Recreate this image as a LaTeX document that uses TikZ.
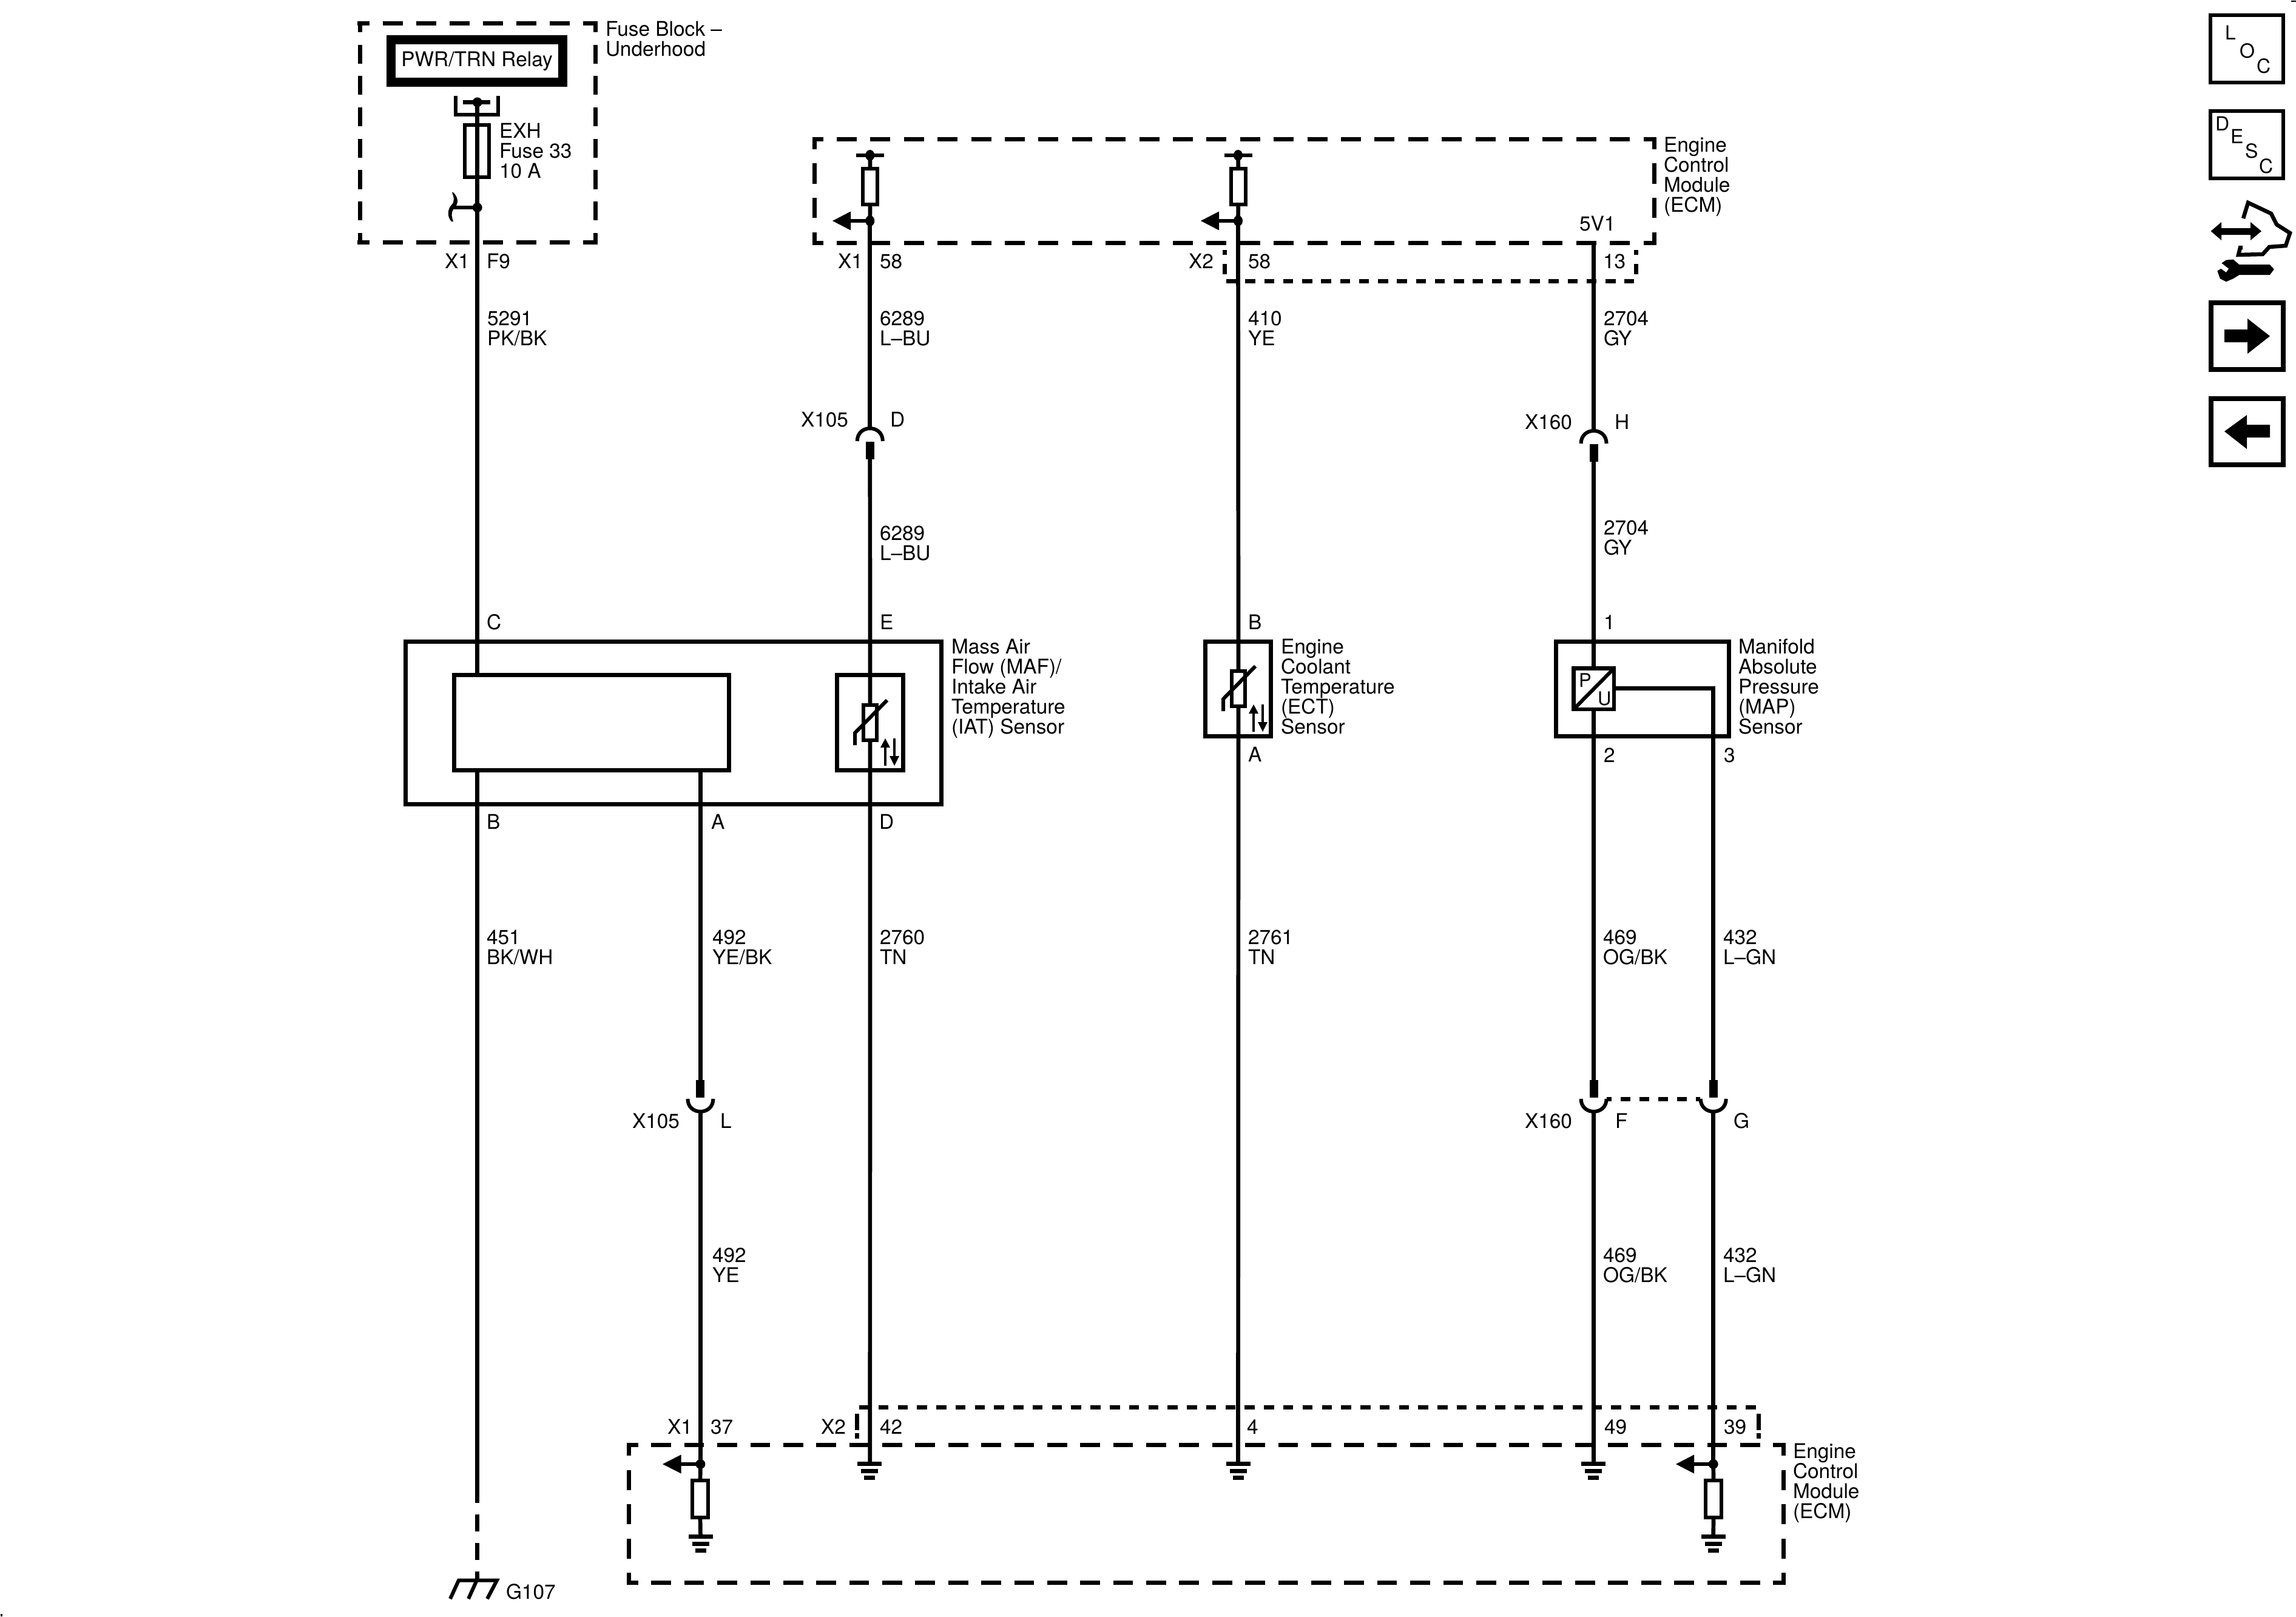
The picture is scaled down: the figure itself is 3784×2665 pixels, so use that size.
\documentclass[tikz,border=0pt]{standalone}
\usepackage{fontspec}
\setmainfont{TeX Gyre Heros}
\newcommand\lbfont{\fontsize{33.4}{33}\selectfont}
\newcommand\tlines[1]{\vtop{\baselineskip=33pt\lineskiplimit=-100pt #1}}
\tikzset{
  wire/.style={line width=6.7pt},
  thin wire/.style={line width=6pt},
  lbl/.style={inner sep=0pt,outer sep=0pt,anchor=base west,font=\lbfont},
  rbox/.style={draw,line width=7pt,inner sep=0pt,outer sep=0pt,fill=white},
  opbox/.style={draw,line width=7pt,inner sep=0pt,outer sep=0pt},
  resbox/.style={draw,line width=6pt,inner sep=0pt,outer sep=0pt,fill=white},
  iconbox/.style={draw,line width=6pt,inner sep=0pt,outer sep=0pt},
  iconboxb/.style={draw,line width=8pt,inner sep=0pt,outer sep=0pt},
  dashln/.style={line width=7pt},
}
% box node from corners: style, name, x1,y1,x2,y2
\newcommand\boxat[6]{\node[#1,minimum width={(#5-#3)*1pt},minimum height={(#6-#4)*1pt}] (#2) at ({(#3+#5)/2},{(#4+#6)/2}) {};}
% dashed line: x1,y1,x2,y2,on,off,phase
\newcommand\dl[7]{\draw[dashln,dash pattern=on #5pt off #6pt,dash phase=#7pt] (#1,#2) -- (#3,#4);}
\newcommand\gnd[2]{%
  \fill ({#1-20},#2) rectangle ({#1+20},{#2+7});
  \fill ({#1-14},{#2+12}) rectangle ({#1+14},{#2+19});
  \fill ({#1-9},{#2+23}) rectangle ({#1+9},{#2+30});}
% connector seen from below (cap on top, block below)  x, cap end y
\newcommand\capup[2]{%
  \draw[thin wire] ({#1-21},#2) .. controls ({#1-21},{#2-28}) and ({#1+21},{#2-28}) .. ({#1+21},#2);
  \fill ({#1-7},{#2+1}) rectangle ({#1+7},{#2+30});}
% connector seen from above (block on top, cup below) x, cup end y
\newcommand\capdn[2]{%
  \fill ({#1-7},{#2-31}) rectangle ({#1+7},{#2-2});
  \draw[thin wire] ({#1-21},#2) .. controls ({#1-21},{#2+28}) and ({#1+21},{#2+28}) .. ({#1+21},#2);}
\newcommand\larrow[3]{\fill (#1,#3) -- (#2,{#3-15.5}) -- (#2,{#3+15.5}) -- cycle;}
% thermistor: name, cx, cy
\newcommand\therm[3]{%
  \node[resbox,minimum width=21.5pt,minimum height=58.5pt] (#1) at (#2,#3) {};
  \draw[thin wire] ({#2+28},{#3-37}) -- ({#2-25},{#3+17}) -- ({#2-25},{#3+37});
  \draw[line width=3.6pt] ({#2+25},{#3+71}) -- ({#2+25},{#3+35});
  \fill ({#2+25},{#3+26}) -- ({#2+17},{#3+41}) -- ({#2+33},{#3+41}) -- cycle;
  \draw[line width=3.6pt] ({#2+40},{#3+26}) -- ({#2+40},{#3+60});
  \fill ({#2+40},{#3+71}) -- ({#2+32},{#3+55}) -- ({#2+48},{#3+55}) -- cycle;}
\begin{document}
\begin{tikzpicture}[x=1pt,y=-1pt]
\useasboundingbox (0,0) rectangle (3784,2665);
\fill[white] (0,0) rectangle (3784,2665);

% ---------- wire coordinates
\coordinate (wa) at (786.7,168.5);
\coordinate (wb) at (1433.8,256);
\coordinate (wc) at (2040.5,256);
\coordinate (wd) at (2626.6,403);
\coordinate (ja) at (786.7,342);
\coordinate (jb) at (1433.8,364);
\coordinate (jc) at (2040.5,364);

% ---------- fuse block
\dl{589}{38.5}{985}{38.5}{33}{22}{13}
\dl{589}{399}{985}{399}{33}{22}{13}
\dl{593}{35}{593}{403}{31}{20.7}{13}
\dl{981.5}{35}{981.5}{403}{31}{20.7}{13}
\node[draw,line width=15pt,inner sep=0pt,outer sep=0pt,minimum width=283pt,minimum height=70pt,font=\lbfont,text height=24pt,text depth=5pt] (relay) at (786,100.5) {PWR/TRN Relay};
\draw[thin wire] (751,158) -- (751,189.5) -- (820.5,189.5) -- (820.5,158);
\draw[wire] (763,168.5) -- (808,168.5);
\fill (wa) circle[x radius=8pt,y radius=8pt];
\boxat{draw,line width=6pt,inner sep=0pt,outer sep=0pt}{fusea}{766}{206}{806}{292}
\fill (ja) circle[radius=8pt];
\draw[wire] (ja) -- (748,342);
\fill (747,317) .. controls (755,325) and (757,335) .. (748,344) .. controls (742,352) and (745,358) .. (747,365) -- (744,365) .. controls (737,358) and (737,345) .. (744,338) .. controls (750,332) and (748,325) .. (745,317) -- cycle;
\node[lbl] (tfb) at (998,60) {\tlines{\hbox{Fuse Block –}\hbox{Underhood}}};
\node[lbl] (tfuse) at (823,228) {\tlines{\hbox{EXH}\hbox{Fuse 33}\hbox{10 A}}};

% ---------- top ECM
\dl{1338.5}{229.5}{2730}{229.5}{33}{22.4}{15}
\dl{1338.5}{400.5}{2730}{400.5}{33}{22.4}{15}
\dl{1342}{226}{1342}{404}{33}{23.5}{13}
\dl{2726.6}{226}{2726.6}{404}{33}{23.5}{13}
\node[lbl] (tecm) at (2742,251) {\tlines{\hbox{Engine}\hbox{Control}\hbox{Module}\hbox{(ECM)}}};
% X2 top sub box
\draw[dashln] (2018.6,412) -- (2018.6,420) (2018.6,435) -- (2018.6,452);
\draw[dashln] (2696.4,412) -- (2696.4,420) (2696.4,435) -- (2696.4,452);
\dl{2021}{463.5}{2693}{463.5}{16.6}{14.65}{0}

\boxat{resbox}{resb}{1422}{278}{1446}{337}
\boxat{resbox}{resc}{2028.7}{278}{2052.7}{337}
\foreach \n/\j/\x in {wb/jb/1433.8,wc/jc/2040.5}{
  \draw[wire] (\x-23,256) -- (\x+23,256);
  \fill (\n) circle[x radius=7.5pt,y radius=9pt];
  \fill (\j) circle[x radius=7.5pt,y radius=9pt];
}
\draw[wire] (wb) -- (resb.north);
\draw[wire] (resb.south) -- (jb);
\draw[wire] (wc) -- (resc.north);
\draw[wire] (resc.south) -- (jc);
\larrow{1372}{1402}{364}
\draw[wire] (1402,364) -- (jb);
\larrow{1979}{2009}{364}
\draw[wire] (2009,364) -- (jc);

% ---------- sensors
\boxat{opbox}{maf}{668}{1057.5}{1551}{1325.5}
\boxat{rbox}{inner}{748}{1112.5}{1201.5}{1269.5}
\boxat{rbox}{iat}{1379}{1112.5}{1488.5}{1269.5}
\boxat{opbox}{ect}{1986}{1057}{2094}{1213}
\boxat{opbox}{mapb}{2564.6}{1057}{2849}{1213}
\therm{tha}{1434}{1191}
\therm{thb}{2041}{1135}
\boxat{draw,line width=6.5pt,inner sep=0pt,outer sep=0pt}{pu}{2593.4}{1101.5}{2660}{1169}
\draw[thin wire] (pu.south west) -- (pu.north east);
\node[lbl,font=\fontsize{31}{31}\selectfont] (tp) at (2602,1132) {P};
\node[lbl,font=\fontsize{31}{31}\selectfont] (tu) at (2633,1162) {U};
\node[lbl] (tmaf) at (1568,1077) {\tlines{\hbox{Mass Air}\hbox{Flow (MAF)/}\hbox{Intake Air}\hbox{Temperature}\hbox{(IAT) Sensor}}};
\node[lbl] (tect) at (2111,1077) {\tlines{\hbox{Engine}\hbox{Coolant}\hbox{Temperature}\hbox{(ECT)}\hbox{Sensor}}};
\node[lbl] (tmap) at (2865,1077) {\tlines{\hbox{Manifold}\hbox{Absolute}\hbox{Pressure}\hbox{(MAP)}\hbox{Sensor}}};

% ---------- connectors
\capup{1433.8}{727}
\capup{2626.6}{731}
\capdn{1154.4}{1811}
\capdn{2626.6}{1811}
\capdn{2823.7}{1811}
\dl{2648}{1811}{2802}{1811}{16}{15}{8}
\node[lbl] (tx105a) at (1320,703) {X105};
\node[lbl] (tda) at (1467,703) {D};
\node[lbl] (tx160a) at (2513,707) {X160};
\node[lbl] (tha2) at (2661,707) {H};
\node[lbl] (tx105b) at (1042,1859) {X105};
\node[lbl] (tl) at (1187,1859) {L};
\node[lbl] (tx160b) at (2513,1859) {X160};
\node[lbl] (tf) at (2662,1859) {F};
\node[lbl] (tg) at (2857,1859) {G};

% ---------- wires
\draw[wire] (ja) -- (786.7,1112.5);
\draw[wire] (wa) -- (ja);
\draw[wire] (786.7,1269.5) -- (786.7,2477);
\draw[wire,dash pattern=on 28pt off 19pt] (786.7,2496) -- (786.7,2604);
\draw[wire] (1154.4,1269.5) -- (1154.4,1781);
\draw[wire] (1154.4,1832) -- (1154.4,2413);
\draw[wire] (jb) -- (1433.8,706);
\draw[wire] (1433.8,757) -- (tha.north);
\draw[wire] (tha.south) -- (1433.8,2409);
\draw[wire] (jc) -- (thb.north);
\draw[wire] (thb.south) -- (2040.5,2409);
\draw[wire] (wd) -- (2626.6,710);
\draw[wire] (2626.6,761) -- (pu.north -| wd);
\draw[wire] (pu.south -| wd) -- (2626.6,1781);
\draw[wire] (2626.6,1832) -- (2626.6,2409);
\draw[wire] (pu.east |- 0,1134.7) -- (2823.7,1134.7) -- (2823.7,1781);
\draw[wire] (2823.7,1832) -- (2823.7,2414);

% ---------- G107
\draw[thin wire] (742,2635) -- (756,2604.5) -- (819,2604.5) -- (803,2635);
\draw[thin wire] (772,2635) -- (786,2604);
\node[lbl] (tg107) at (834,2635) {G107};

% ---------- bottom ECM
\dl{1032.5}{2381.5}{2942}{2381.5}{32.7}{21.68}{13.5}
\dl{1032.5}{2608.5}{2942}{2608.5}{32.7}{21.68}{13.5}
\dl{1036}{2378}{1036}{2612}{33}{23.5}{12}
\dl{2939}{2378}{2939}{2612}{33}{23.5}{12}
\node[lbl] (tecmb) at (2955,2403) {\tlines{\hbox{Engine}\hbox{Control}\hbox{Module}\hbox{(ECM)}}};
\draw[dashln] (1412,2330) -- (1412,2357) (1412,2362) -- (1412,2371);
\draw[dashln] (2898.7,2330) -- (2898.7,2357) (2898.7,2362) -- (2898.7,2371);
\dl{1416}{2319.5}{2894}{2319.5}{16.5}{15.27}{0}
\coordinate (je) at (1154.4,2413);
\coordinate (jf) at (2823.7,2413);
\boxat{resbox}{rese}{1141}{2440}{1167}{2501}
\boxat{resbox}{resf}{2811}{2440}{2837}{2501}
\fill (je) circle[radius=8pt];
\fill (jf) circle[radius=8pt];
\larrow{1092}{1122.5}{2413}
\larrow{2762}{2792}{2413}
\draw[wire] (1122,2413) -- (je);
\draw[wire] (2792,2413) -- (jf);
\draw[wire] (je) -- (rese.north);
\draw[wire] (jf) -- (resf.north);
\draw[wire] (rese.south) -- (1154.4,2529);
\draw[wire] (resf.south) -- (2823.7,2529);
\gnd{1155}{2529}
\gnd{2824}{2529}
\gnd{1433}{2409}
\gnd{2040.5}{2409}
\gnd{2626}{2409}

% ---------- pin and wire labels
\foreach \nm/\x/\y/\t in {
 a1/733/442/X1, a2/802/442/F9,
 b1/1381/442/X1, b2/1450/442/58,
 c1/1959/442/X2, c2/2057/442/58,
 d1/2603/380/5V1, d2/2642/442/13,
 e1/802/1037/C, e2/1450/1037/E, e3/2057/1037/B, e4/2643/1037/1,
 f1/802/1366/B, f2/1172/1366/A, f3/1449/1366/D, f4/2057/1255/A, f5/2643/1256/2, f6/2841/1256/3,
 g1/1100/2363/X1, g2/1171/2363/37, g3/1353/2363/X2, g4/1450/2363/42, g5/2055/2363/4, g6/2644/2363/49, g7/2841/2363/39}
  {\node[lbl] (n\nm) at (\x,\y) {\t};}
\foreach \nm/\x/\y/\t/\s in {
 w1/803/536/5291/PK\slash BK,
 w2/1450/536/6289/L–BU,
 w3/2057/536/410/YE,
 w4/2643/536/2704/GY,
 w5/1450/890/6289/L–BU,
 w6/2643/881/2704/GY,
 w7/802/1556/451/BK\slash WH,
 w8/1174/1556/492/YE\slash BK,
 w9/1450/1556/2760/TN,
 w10/2057/1556/2761/TN,
 w11/2642/1556/469/OG\slash BK,
 w12/2840/1556/432/L–GN,
 w13/1174/2080/492/YE,
 w14/2642/2080/469/OG\slash BK,
 w15/2840/2080/432/L–GN}
  {\node[lbl] (\nm) at (\x,\y) {\tlines{\hbox{\t}\hbox{\s}}};}

% ---------- icons
\boxat{iconbox}{loc}{3643}{25}{3763}{136}
\node[lbl,font=\fontsize{32}{32}\selectfont] (il) at (3667,66) {L};
\node[lbl,font=\fontsize{32}{32}\selectfont] (io) at (3691,96) {O};
\node[lbl,font=\fontsize{32}{32}\selectfont] (ic) at (3719,121) {C};
\boxat{iconbox}{descb}{3643}{183}{3763}{294}
\node[lbl,font=\fontsize{32}{32}\selectfont] (id) at (3651,216) {D};
\node[lbl,font=\fontsize{32}{32}\selectfont] (ie) at (3676,237) {E};
\node[lbl,font=\fontsize{32}{32}\selectfont] (is) at (3700,261) {S};
\node[lbl,font=\fontsize{32}{32}\selectfont] (ic2) at (3723,286) {C};
\fill (3643.6,381) -- (3661,366) -- (3661,376) -- (3709,376) -- (3709,366) -- (3727,381) -- (3709,396) -- (3709,387) -- (3661,387) -- (3661,396) -- cycle;
\draw[line width=6.5pt,miter limit=10] (3697,360) -- (3705,334) -- (3743,352) -- (3752,370) -- (3774,384) -- (3767,405) -- (3740,407) -- (3729,419) -- (3689,420) -- (3692,408) -- (3696,408);
\fill (3661.4,433.7) -- (3668.8,428.6) -- (3680.5,427.6) -- (3690.6,436.2) -- (3740.9,436.2) -- (3747.7,443.9) -- (3740.9,453) -- (3690.6,453) -- (3680.5,459.2) -- (3668.8,464.3) -- (3658.7,459.2) -- (3654.4,446.4) -- (3660.4,442.9) -- (3668.8,449) -- (3673.2,442.9) -- cycle;
\boxat{iconboxb}{nxt}{3644}{499}{3763}{609}
\fill (3666,543) -- (3704,543) -- (3704,525) -- (3741,554) -- (3704,583) -- (3704,564) -- (3666,564) -- cycle;
\boxat{iconboxb}{prv}{3644}{657}{3763}{766}
\fill (3741,700) -- (3703,700) -- (3703,684) -- (3666,711) -- (3703,740) -- (3703,721) -- (3741,721) -- cycle;
% edge specks
\fill (3776,1) rectangle (3784,3);
\fill (1,2660) rectangle (4,2664);
\end{tikzpicture}
\end{document}
